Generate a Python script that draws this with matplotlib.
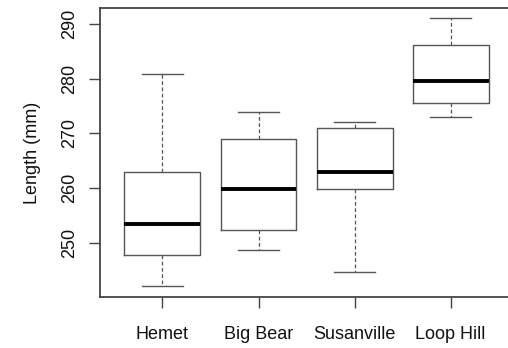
import matplotlib
matplotlib.use("Agg")
import matplotlib.pyplot as plt

plt.rcParams['font.family'] = ['Liberation Sans', 'DejaVu Sans']

sites = ["Hemet", "Big Bear", "Susanville", "Loop Hill"]
whisker_low = [242.1, 248.7, 244.7, 273.0]
q1 = [247.8, 252.3, 259.8, 275.6]
median = [253.4, 259.9, 263.0, 279.6]
q3 = [263.0, 268.9, 271.0, 286.2]
whisker_high = [280.9, 273.9, 272.1, 291.1]
yticks = [250, 260, 270, 280, 290]

stats = []
for i, name in enumerate(sites):
    stats.append({"label": name, "whislo": whisker_low[i], "q1": q1[i],
                  "med": median[i], "q3": q3[i], "whishi": whisker_high[i],
                  "fliers": []})

fig = plt.figure(figsize=(5.08, 3.48), dpi=100)
ax = fig.add_axes([100 / 508, 51 / 348, 1 - 100 / 508 + 0.01, 289 / 348])

ax.bxp(stats, positions=[1, 2, 3, 4], widths=0.79, showfliers=False,
       boxprops=dict(color="#555555", linewidth=1.0),
       medianprops=dict(color="black", linewidth=2.8, solid_capstyle="butt"),
       whiskerprops=dict(color="#555555", linewidth=0.9, linestyle=(0, (3, 2))),
       capprops=dict(color="#555555", linewidth=1.0),
       capwidths=0.43)

ax.set_xlim(0.35, 4.65)
ax.set_ylim(240.1, 292.9)
ax.set_yticks(yticks)
ax.set_yticklabels([str(v) for v in yticks], rotation=90, va="center")
ax.set_xticks([1, 2, 3, 4])
ax.set_xticklabels(sites)
ax.tick_params(axis="both", length=8, width=1.0, color="#444444",
               labelsize=13, labelcolor="#111111")
ax.tick_params(axis="y", pad=8)
ax.tick_params(axis="x", pad=13)
for s in ax.spines.values():
    s.set_color("#444444")
    s.set_linewidth(1.3)
ax.spines["right"].set_visible(False)
ax.set_ylabel("Length (mm)", fontsize=13, color="#111111", labelpad=14)

fig.savefig("out.png", dpi=100)
